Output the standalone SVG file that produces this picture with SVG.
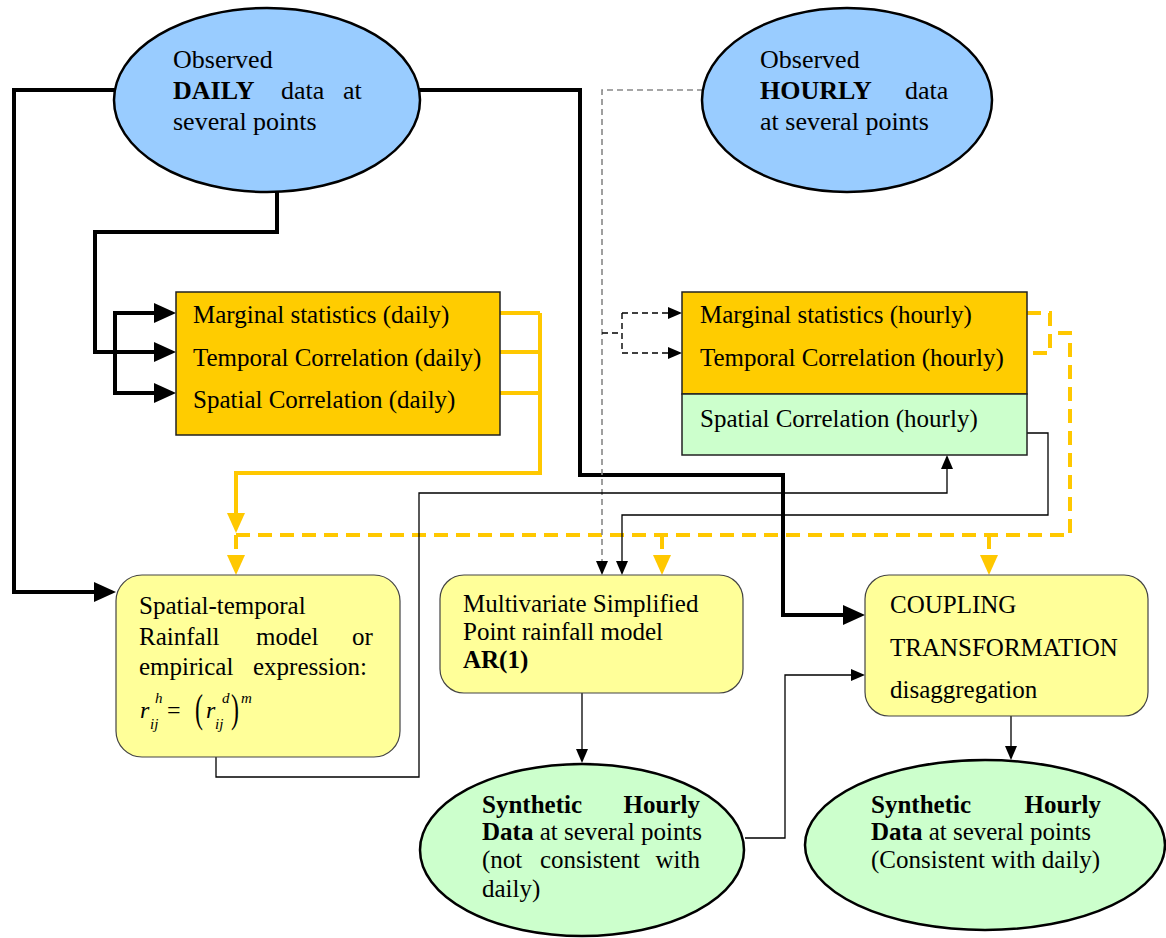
<svg xmlns="http://www.w3.org/2000/svg" width="1166" height="938" viewBox="0 0 1166 938">
<style>
text{font-family:"Liberation Serif","Times New Roman",serif;fill:#000;}
.t26{font-size:26px;}
.t25{font-size:25px;}
.b{font-weight:bold;}
.it{font-style:italic;}
.blue{fill:#99CCFF;stroke:#000;stroke-width:2.5;}
.green{fill:#CCFFCC;stroke:#000;stroke-width:2.5;}
.orange{fill:#FFCC00;stroke:#222;stroke-width:1.5;}
.lgreen{fill:#CCFFCC;stroke:#222;stroke-width:1.5;}
.ybox{fill:#FFFF99;stroke:#444;stroke-width:1.2;}
.thick{fill:none;stroke:#000;stroke-width:4;}
.thin{fill:none;stroke:#000;stroke-width:1.3;}
.ysol{fill:none;stroke:#FFC800;stroke-width:4;}
.ydash{fill:none;stroke:#FFC800;stroke-width:4;stroke-dasharray:14 8;}
.gdash{fill:none;stroke:#888;stroke-width:1.6;stroke-dasharray:6 4;}
.kdash{fill:none;stroke:#000;stroke-width:1.4;stroke-dasharray:6 4;}
</style>
<defs>
<marker id="ak" markerUnits="userSpaceOnUse" viewBox="0 0 22 20" refX="0" refY="10" markerWidth="22" markerHeight="20" orient="auto"><path d="M0,0 L22,10 L0,20 z" fill="#000"/></marker>
<marker id="at" markerUnits="userSpaceOnUse" viewBox="0 0 14 12" refX="0" refY="6" markerWidth="14" markerHeight="12" orient="auto"><path d="M0,0 L14,6 L0,12 z" fill="#000"/></marker>
<marker id="ay" markerUnits="userSpaceOnUse" viewBox="0 0 20 18" refX="0" refY="9" markerWidth="20" markerHeight="18" orient="auto"><path d="M0,0 L20,9 L0,18 z" fill="#FFC800"/></marker>
</defs>
<rect width="1166" height="938" fill="#fff"/>

<g id="connectors">
<path class="thick" d="M115,90 H14 V592 H94" marker-end="url(#ak)"/>
<path class="thick" d="M419,90 H580 V475 H783 V615 H843" marker-end="url(#ak)"/>
<path class="thick" d="M277,192 V232 H95 V352 H154" marker-end="url(#ak)"/>
<path class="thick" d="M115,352 V313 H154" marker-end="url(#ak)"/>
<path class="thick" d="M115,352 V393 H154" marker-end="url(#ak)"/>

<path class="ysol" d="M500,313 H540 M500,352 H540 M500,393 H540"/>
<path class="ysol" d="M540,313 V473 H236 V513" marker-end="url(#ay)"/>
<path class="ydash" d="M236,535 H1070 V333 H1050"/>
<path class="ydash" d="M1027,313 H1050 V353 H1027"/>
<path class="ydash" d="M236,535 V555" marker-end="url(#ay)"/>
<path class="ydash" d="M662,535 V555" marker-end="url(#ay)"/>
<path class="ydash" d="M989,535 V555" marker-end="url(#ay)"/>

<path class="gdash" d="M703,90 H602 V561" marker-end="url(#at)"/>
<path class="kdash" d="M602,333 H622 M622,313 V353"/>
<path class="kdash" d="M622,313 H668" marker-end="url(#at)"/>
<path class="kdash" d="M622,353 H668" marker-end="url(#at)"/>

<path class="thin" d="M1027,433 H1048 V515 H622 V561" marker-end="url(#at)"/>
<path class="thin" d="M216,757 V777 H419 V493 H947 V469" marker-end="url(#at)"/>
<path class="thin" d="M582,693 V749" marker-end="url(#at)"/>
<path class="thin" d="M745,838 H785 V675 H851" marker-end="url(#at)"/>
<path class="thin" d="M1011,716 V746" marker-end="url(#at)"/>
</g>

<g id="daily-observed">
<ellipse class="blue" cx="267" cy="100" rx="153" ry="92"/>
<text class="t26" x="173" y="68">Observed</text>
<text class="t26 b" x="173" y="99">DAILY</text>
<text class="t26" x="281" y="99">data</text>
<text class="t26" x="343" y="99">at</text>
<text class="t26" x="173" y="130">several points</text>
</g>

<g id="hourly-observed">
<ellipse class="blue" cx="847" cy="100" rx="145" ry="92"/>
<text class="t26" x="760" y="68">Observed</text>
<text class="t26 b" x="760" y="99">HOURLY</text>
<text class="t26" x="905" y="99">data</text>
<text class="t26" x="760" y="130">at several points</text>
</g>

<g id="daily-stats">
<rect class="orange" x="176" y="292" width="324" height="143"/>
<text class="t25" x="193" y="323">Marginal statistics (daily)</text>
<text class="t25" x="193" y="366">Temporal Correlation (daily)</text>
<text class="t25" x="193" y="408">Spatial Correlation (daily)</text>
</g>

<g id="hourly-stats">
<rect class="orange" x="682" y="292" width="345" height="102"/>
<rect class="lgreen" x="682" y="394" width="345" height="61"/>
<text class="t25" x="700" y="323">Marginal statistics (hourly)</text>
<text class="t25" x="700" y="366">Temporal Correlation (hourly)</text>
<text class="t25" x="700" y="427">Spatial Correlation (hourly)</text>
</g>

<g id="spatial-temporal-model">
<rect class="ybox" x="116" y="575" width="284" height="182" rx="26"/>
<text class="t25" x="139" y="614">Spatial-temporal</text>
<text class="t25" x="139" y="645">Rainfall</text>
<text class="t25" x="256" y="645">model</text>
<text class="t25" x="352" y="645">or</text>
<text class="t25" x="139" y="675">empirical</text>
<text class="t25" x="253" y="675">expression:</text>
<text class="it" x="140" y="718" font-size="24">r</text>
<text class="it" x="155" y="703" font-size="15">h</text>
<text class="it" x="150" y="729" font-size="15">ij</text>
<text x="167" y="718" font-size="24">=</text>
<text x="195" y="722" font-size="34" transform="translate(195 722) scale(0.7 1.15) translate(-195 -722)">(</text>
<text class="it" x="206" y="718" font-size="24">r</text>
<text class="it" x="222" y="703" font-size="15">d</text>
<text class="it" x="215" y="729" font-size="15">ij</text>
<text x="231" y="722" font-size="34" transform="translate(231 722) scale(0.7 1.15) translate(-231 -722)">)</text>
<text class="it" x="241" y="703" font-size="15">m</text>
</g>

<g id="multivariate-model">
<rect class="ybox" x="440" y="575" width="303" height="118" rx="24"/>
<text class="t25" x="463" y="612">Multivariate Simplified</text>
<text class="t25" x="463" y="640">Point rainfall model</text>
<text class="t25 b" x="463" y="668">AR(1)</text>
</g>

<g id="coupling">
<rect class="ybox" x="865" y="575" width="283" height="141" rx="24"/>
<text class="t25" x="890" y="613">COUPLING</text>
<text class="t25" x="890" y="656">TRANSFORMATION</text>
<text class="t25" x="890" y="698">disaggregation</text>
</g>

<g id="synthetic-inconsistent">
<ellipse class="green" cx="582" cy="850" rx="162" ry="86"/>
<text class="t25 b" x="482" y="813">Synthetic</text>
<text class="t25 b" x="700" y="813" text-anchor="end">Hourly</text>
<text class="t25" x="482" y="840"><tspan class="b">Data</tspan> at several points</text>
<text class="t25" x="482" y="868">(not</text>
<text class="t25" x="540" y="868">consistent</text>
<text class="t25" x="700" y="868" text-anchor="end">with</text>
<text class="t25" x="482" y="897">daily)</text>
</g>

<g id="synthetic-consistent">
<ellipse class="green" cx="985" cy="845" rx="180" ry="85"/>
<text class="t25 b" x="871" y="813">Synthetic</text>
<text class="t25 b" x="1101" y="813" text-anchor="end">Hourly</text>
<text class="t25" x="871" y="840"><tspan class="b">Data</tspan> at several points</text>
<text class="t25" x="871" y="868">(Consistent with daily)</text>
</g>
</svg>
